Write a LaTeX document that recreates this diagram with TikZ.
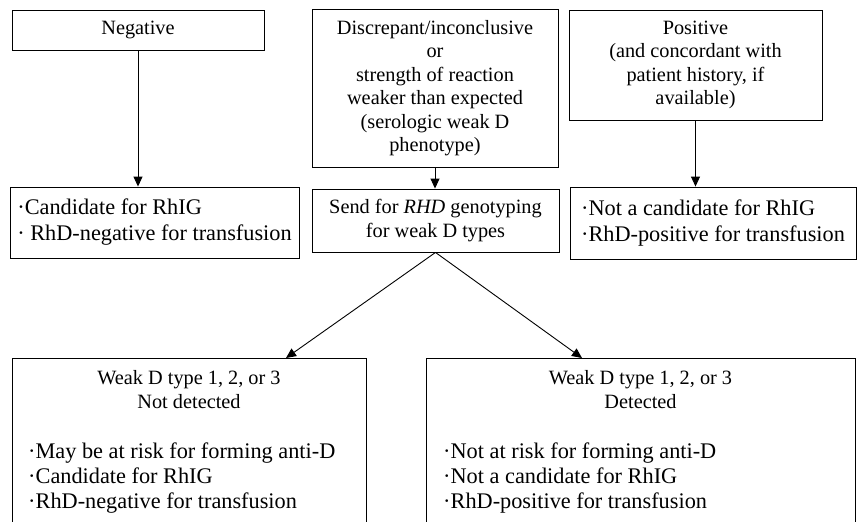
\documentclass[tikz,border=0pt]{standalone}
\usepackage{fontspec}
\setmainfont{Liberation Serif}
\usetikzlibrary{arrows.meta}
\begin{document}
\begin{tikzpicture}[x=1pt,y=-1pt,
  box/.style={draw, line width=0.9pt, inner sep=0pt, align=center, font=\fontsize{20.3}{23.5}\selectfont},
  listbox/.style={box, align=left, font=\fontsize{22.3}{26}\selectfont},
  openbox/.style={draw, line width=0.9pt, inner sep=0pt, minimum height=200, anchor=north west},
  headtext/.style={inner sep=0pt, anchor=base, font=\fontsize{20.3}{24}\selectfont},
  listtext/.style={inner sep=0pt, anchor=base west, font=\fontsize{22.3}{25}\selectfont},
  arr/.style={line width=0.9pt, -{Triangle[length=10pt,width=9pt]}}]
\useasboundingbox (0,0) rectangle (857,522);
\clip (0,0) rectangle (857,522);
% top row
\node[box, minimum width=252, minimum height=40] (neg) at (138,30) {Negative};
\node[box, minimum width=246, minimum height=158] (disc) at (435,88) {Discrepant/inconclusive\\or\\strength of reaction\\weaker than expected\\(serologic weak D\\phenotype)};
\node[box, minimum width=253, minimum height=110] (pos) at (695.5,65) {Positive\\(and concordant with\\patient history, if\\available)};
% second row
\node[listbox, minimum width=289, minimum height=71] (negres) at (154.5,222.5) {·Candidate for RhIG\\· RhD-negative for transfusion};
\node[box, minimum width=247, minimum height=63] (send) at (435.5,220.5) {Send for \textit{RHD} genotyping\\for weak D types};
\node[listbox, minimum width=286, minimum height=72] (posres) at (713,223) {·Not a candidate for RhIG\\·RhD-positive for transfusion};
% bottom row
\node[openbox, minimum width=354] (nd) at (12,358) {};
\node[openbox, minimum width=429] (det) at (426,358) {};
\node[headtext] (ndh) at (189,384) {\begin{tabular}[t]{@{}c@{}}Weak D type 1, 2, or 3\\Not detected\end{tabular}};
\node[listtext] (ndl) at (28,458) {\begin{tabular}[t]{@{}l@{}}·May be at risk for forming anti-D\\·Candidate for RhIG\\·RhD-negative for transfusion\end{tabular}};
\node[headtext] (deth) at (640.5,384) {\begin{tabular}[t]{@{}c@{}}Weak D type 1, 2, or 3\\Detected\end{tabular}};
\node[listtext] (detl) at (443,458) {\begin{tabular}[t]{@{}l@{}}·Not at risk for forming anti-D\\·Not a candidate for RhIG\\·RhD-positive for transfusion\end{tabular}};
% connectors
\coordinate (ndin) at (286,358);
\coordinate (detin) at (582,358);
\draw[arr] (neg.south) -- (neg.south |- negres.north);
\draw[arr] (disc.south) -- (disc.south |- send.north);
\draw[arr] (pos.south) -- (pos.south |- posres.north);
\draw[arr] (send.south) -- (ndin);
\draw[arr] (send.south) -- (detin);
\end{tikzpicture}
\end{document}
